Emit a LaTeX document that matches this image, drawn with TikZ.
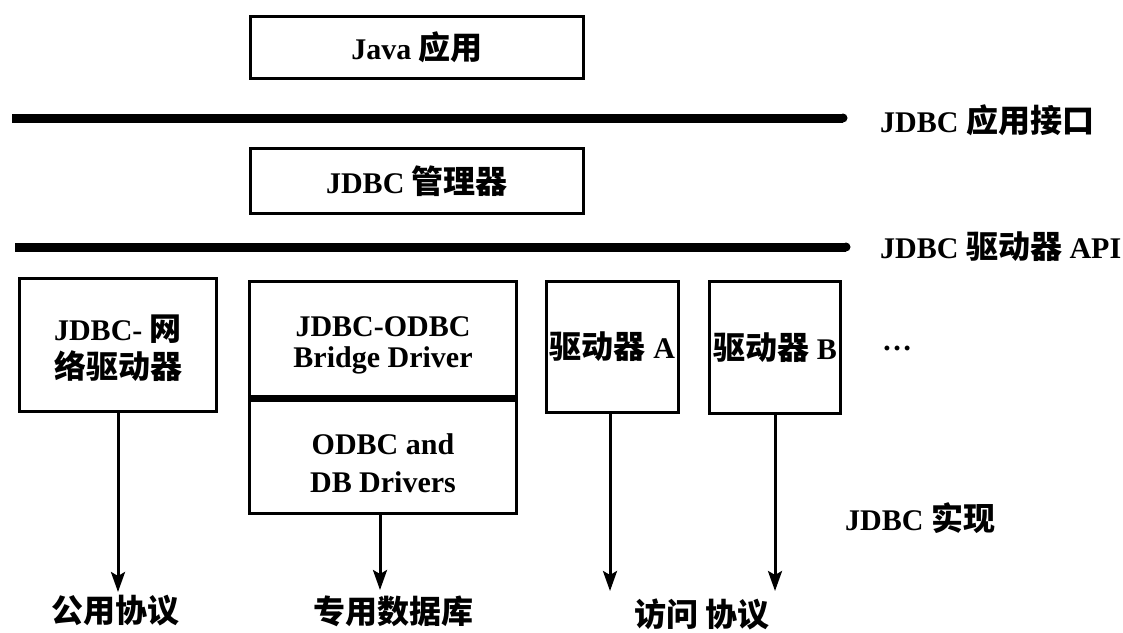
\documentclass[tikz,border=0pt]{standalone}
\usepackage{fontspec}
\setmainfont{Liberation Serif}
\newfontfamily\cjk{Noto Sans CJK SC}
\usetikzlibrary{arrows.meta}
\newcommand\zhtext[1]{{\cjk\fontsize{32}{38}\selectfont #1}}
\tikzset{
  txt/.style={font=\bfseries\fontsize{30}{38}\selectfont, inner sep=0pt, align=center},
  boxstyle/.style={draw, line width=3pt, inner sep=0pt},
  busline/.style={line width=9pt},
  flow/.style={line width=3pt, -{Stealth[length=20pt,width=14pt,inset=4pt]}},
}
\begin{document}
\begin{tikzpicture}[x=1pt,y=-1pt]
\useasboundingbox (0,0) rectangle (1123,632);
% top boxes
\node[boxstyle, minimum width=333pt, minimum height=62pt] (java) at (417,47.5) {};
\node[txt] (javat) at (java.center) {Java \zhtext{应用}};
\node[boxstyle, minimum width=333pt, minimum height=65pt] (mgr) at (417,181) {};
\node[txt] (mgrt) at (mgr.center) {JDBC \zhtext{管理器}};
% bus lines
\coordinate (l1a) at (12,118);
\coordinate (l1b) at (843,118);
\coordinate (l2a) at (15,247);
\coordinate (l2b) at (846,247);
\draw[busline] (l1a) -- (l1b);
\draw[busline] (l2a) -- (l2b);
\fill (l1b) circle (4.5pt);
\fill (l2b) circle (4.5pt);
\node[txt, anchor=west] (api1) at (880,120) {JDBC \zhtext{应用接口}};
\node[txt, anchor=west] (api2) at (880,247) {JDBC \zhtext{驱动器} API};
% driver boxes
\node[boxstyle, minimum width=197pt, minimum height=133pt] (net) at (118,345) {};
\node[txt] (nett) at (118,348) {JDBC- \zhtext{网}\\\zhtext{络驱动器}};
\node[boxstyle, minimum width=267pt, minimum height=232pt] (bridge) at (383,397.5) {};
\coordinate (divl) at (248,398);
\coordinate (divr) at (518,398);
\draw[line width=7pt] (divl) -- (divr);
\node[txt, font=\bfseries\fontsize{30}{31}\selectfont] (bridget) at (383,345) {JDBC-ODBC\\Bridge Driver};
\node[txt] (odbct) at (383,463) {ODBC and\\DB Drivers};
\node[boxstyle, minimum width=132pt, minimum height=131pt] (da) at (612.5,347) {};
\node[txt] (dat) at (da.center) {\zhtext{驱动器} A};
\node[boxstyle, minimum width=131pt, minimum height=132pt] (db) at (775,347.5) {};
\node[txt] (dbt) at (db.center) {\zhtext{驱动器} B};
\node[txt] (dots) at (897,348) {…};
\node[txt, anchor=west] (impl) at (845,518) {JDBC \zhtext{实现}};
% arrows
\coordinate (t1) at (118,592);
\coordinate (t2) at (380,590);
\coordinate (t3) at (610,591);
\coordinate (t4) at (775,591);
\draw[flow] (net.south) -- (t1);
\draw[flow] (bridge.south -| t2) -- (t2);
\draw[flow] (da.south -| t3) -- (t3);
\draw[flow] (db.south) -- (t4);
% bottom labels
\node[txt] (pub) at (115,611) {\zhtext{公用协议}};
\node[txt] (priv) at (393,611) {\zhtext{专用数据库}};
\node[txt] (acc) at (702,614) {\zhtext{访问 协议}};
\end{tikzpicture}
\end{document}
